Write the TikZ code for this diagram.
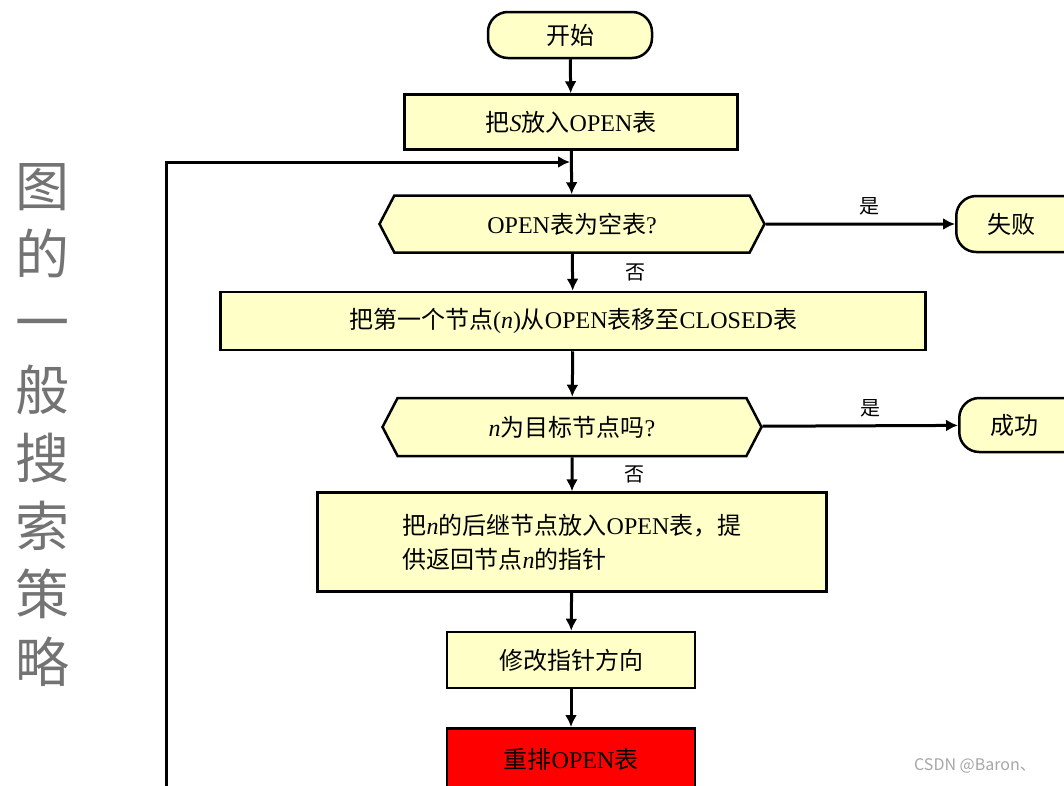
\documentclass[tikz,border=0pt]{standalone}
\usepackage{fontspec}
\setmainfont{Liberation Serif}
\newfontfamily\cjk{Noto Sans CJK SC}
\usetikzlibrary{shapes.symbols,arrows.meta}
\definecolor{boxfill}{HTML}{FFFFC8}
\tikzset{
  box/.style={draw=black,line width=2.5pt,fill=boxfill,inner sep=0pt,font=\fontsize{24}{34}\selectfont},
  term/.style={box,rounded corners=20pt},
  dec/.style={box,signal,signal to=west and east,signal pointer angle=125},
  arr/.style={line width=3pt,-{Latex[length=12pt,width=12pt]}},
  lbl/.style={font=\cjk\fontsize{20}{22}\selectfont}
}
\begin{document}
\begin{tikzpicture}[x=1pt,y=-1pt]
\useasboundingbox (0,0) rectangle (1064,785);
\clip (0,0) rectangle (1064,785);
\node[term,minimum width=164pt,minimum height=46pt] (start) at (570,35) {\cjk 开始};
\node[box,minimum width=333pt,minimum height=55pt] (b1) at (571,122) {\cjk 把\rmfamily\textit{S}\cjk 放入\rmfamily OPEN\cjk 表};
\node[dec,minimum width=385pt,minimum height=57pt] (d1) at (572,224) {OPEN{\cjk 表为空表}?};
\node[term,minimum width=190pt,minimum height=56pt,anchor=west] (fail) at (955,224) {\cjk\hspace*{-80pt}失败};
\node[box,minimum width=705pt,minimum height=58pt] (b2) at (573,321) {\cjk 把第一个节点\rmfamily(\textit{n})\cjk 从\rmfamily OPEN\cjk 表移至\rmfamily CLOSED\cjk 表};
\node[dec,minimum width=379pt,minimum height=58pt] (d2) at (572,427) {\textit{n}{\cjk 为目标节点吗}?};
\node[term,minimum width=190pt,minimum height=54pt,anchor=west] (succ) at (958,425) {\cjk\hspace*{-80pt}成功};
\node[box,minimum width=509pt,minimum height=99pt,align=left] (b3) at (572,542) {\cjk 把\rmfamily\textit{n}\cjk 的后继节点放入\rmfamily OPEN\cjk 表，提\\\cjk 供返回节点\rmfamily\textit{n}\cjk 的指针};
\node[box,minimum width=248pt,minimum height=56pt] (b4) at (571,660) {\cjk 修改指针方向};
\node[box,fill=red,minimum width=248pt,minimum height=62pt,anchor=north] (b5) at (571,727) {\cjk 重排\rmfamily OPEN\cjk 表};
\coordinate (loopin) at (570,162);
\coordinate (lt) at (166,162);
\coordinate (lb) at (166,790);
\draw[arr] (start) -- (b1);
\draw[arr] (b1) -- (d1);
\draw[line width=3pt] (lb) -- (lt) -- ([xshift=-14pt]loopin);
\draw[arr] (lt) -- (loopin);
\draw[arr] (d1) -- node[lbl,above=4pt,pos=0.55] {是} (fail);
\draw[arr] (d1) -- node[lbl,right=48pt,pos=0.5] {否} (b2);
\draw[arr] (b2) -- (d2);
\draw[arr] (d2) -- node[lbl,above=4pt,pos=0.55] {是} (succ);
\draw[arr] (d2) -- node[lbl,right=48pt,pos=0.5] {否} (b3);
\draw[arr] (b3) -- (b4);
\draw[arr] (b4) -- (b5);
\node[font=\cjk\fontsize{54}{68}\selectfont,text=gray!90!black,align=center,inner sep=0pt] (title) at (42,425) {图\\的\\一\\般\\搜\\索\\策\\略};
\node[font=\cjk\fontsize{16}{18}\selectfont,text=gray!70] (wm) at (975,766) {CSDN @Baron、};
\end{tikzpicture}
\end{document}
